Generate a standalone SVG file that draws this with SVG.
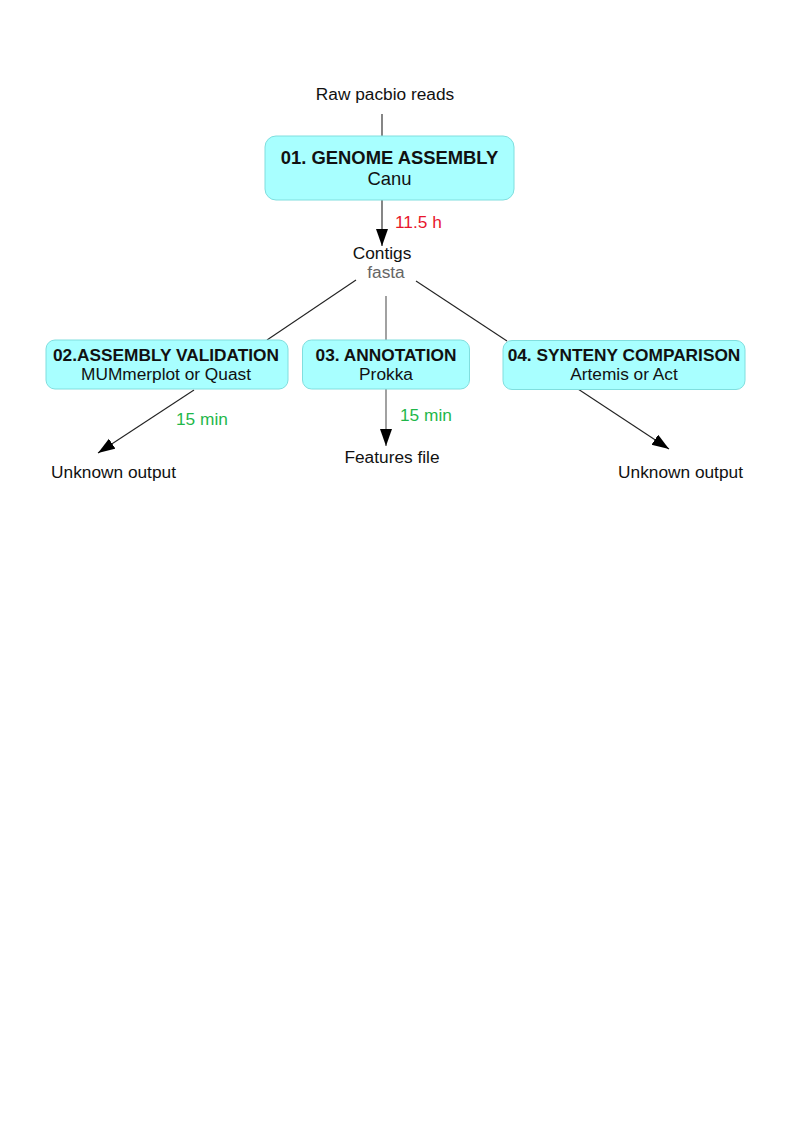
<svg xmlns="http://www.w3.org/2000/svg" width="794" height="1123" viewBox="0 0 794 1123">
<style>
text{font-family:"Liberation Sans",Arial,sans-serif;font-size:17.3px;fill:#111;text-anchor:middle}
.t{font-weight:bold}
.big{font-size:18.4px}
.box{fill:#a8ffff;stroke:#80dede;stroke-width:1}
.e{stroke:#222;stroke-width:1.1;fill:none}
.red{fill:#e8162c;text-anchor:start}
.grn{fill:#1fb74a;text-anchor:start}
.gray{fill:#666}
</style>
<defs>
<marker id="ah" markerUnits="userSpaceOnUse" markerWidth="18" markerHeight="14" refX="17" refY="6" orient="auto">
<path d="M0,0 L17,6 L0,12 Z" fill="#000"/>
</marker>
</defs>
<rect width="794" height="1123" fill="#fff"/>
<g id="connectors">
<line class="e" x1="382" y1="114" x2="382" y2="136"/>
<line class="e" x1="382" y1="200" x2="382" y2="246" marker-end="url(#ah)"/>
<line class="e" x1="356" y1="280" x2="267" y2="340"/>
<line class="e" x1="386" y1="296" x2="386" y2="340" style="stroke:#555"/>
<line class="e" x1="416" y1="281" x2="507" y2="341"/>
<line class="e" x1="194" y1="390" x2="98" y2="453" marker-end="url(#ah)"/>
<line class="e" x1="386" y1="389" x2="386" y2="446" marker-end="url(#ah)" style="stroke:#555"/>
<line class="e" x1="578" y1="389" x2="669" y2="449" marker-end="url(#ah)"/>
<text class="red" x="395" y="228">11.5 h</text>
<text class="grn" x="176" y="425">15 min</text>
<text class="grn" x="400" y="421">15 min</text>
</g>
<g id="raw"><text x="385" y="100">Raw pacbio reads</text></g>
<g id="n1">
<rect class="box" x="265" y="136" width="249" height="64" rx="11"/>
<text class="t big" x="389.5" y="164">01. GENOME ASSEMBLY</text>
<text class="big" x="389.5" y="185">Canu</text>
</g>
<g id="contigs">
<text x="382" y="259">Contigs</text>
<text class="gray" x="386" y="278">fasta</text>
</g>
<g id="n2">
<rect class="box" x="46" y="340" width="242" height="49" rx="9"/>
<text class="t" x="166" y="361">02.ASSEMBLY VALIDATION</text>
<text x="166" y="380">MUMmerplot or Quast</text>
</g>
<g id="n3">
<rect class="box" x="302.5" y="340" width="167" height="49" rx="9"/>
<text class="t" x="386" y="361">03. ANNOTATION</text>
<text x="386" y="380">Prokka</text>
</g>
<g id="n4">
<rect class="box" x="503" y="340.5" width="242" height="49" rx="9"/>
<text class="t" x="624" y="361">04. SYNTENY COMPARISON</text>
<text x="624" y="380">Artemis or Act</text>
</g>
<g id="out1"><text x="113.5" y="478">Unknown output</text></g>
<g id="out2"><text x="392" y="463">Features file</text></g>
<g id="out3"><text x="680.5" y="478">Unknown output</text></g>
</svg>
